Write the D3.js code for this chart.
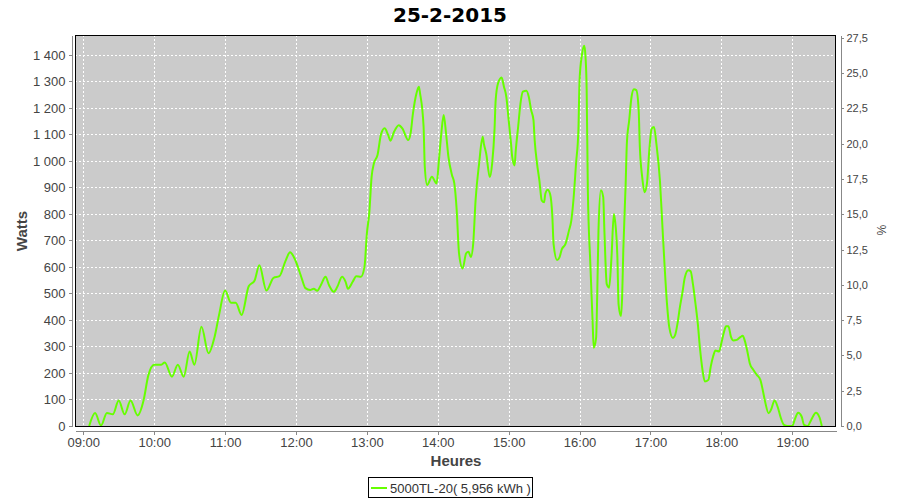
<!DOCTYPE html>
<html><head><meta charset="utf-8">
<script src="https://cdn.jsdelivr.net/npm/d3@7/dist/d3.min.js"></script>
<style>body{margin:0;background:#fff}</style>
</head><body>
<svg id="c" width="900" height="500"></svg>
<script>
const title = "25-2-2015";
const seriesName = "5000TL-20( 5,956 kWh )";
const times = ["09:05","09:10","09:15","09:20","09:25","09:30","09:35","09:40","09:46","09:51","09:55",
"10:00","10:06","10:09","10:15","10:20","10:25","10:30","10:34","10:40","10:46","10:51","10:55",
"11:00","11:05","11:09","11:14","11:20","11:25","11:29","11:35","11:41","11:46","11:51","11:55","11:59",
"12:03","12:05","12:08","12:12","12:15","12:18","12:21","12:25","12:28","12:32","12:35","12:39","12:42","12:44","12:48","12:51","12:55","12:58",
"13:00","13:02","13:04","13:06","13:09","13:12","13:15","13:18","13:20","13:23","13:27","13:30","13:35","13:37","13:39","13:42","13:44","13:45","13:48","13:49","13:51","13:55","13:59",
"14:01","14:03","14:05","14:07","14:09","14:12","14:14","14:16","14:18","14:21","14:24","14:26","14:28","14:30","14:32","14:35","14:38","14:39","14:41","14:44","14:46","14:48","14:49","14:51","14:54","14:56","14:58",
"15:00","15:02","15:03","15:05","15:06","15:08","15:10","15:12","15:15","15:17","15:19","15:21","15:22","15:24","15:26","15:28","15:30","15:31","15:33","15:35","15:37","15:38","15:41","15:43","15:45","15:48","15:51","15:53","15:55","15:57","15:59",
"16:00","16:02","16:04","16:05","16:06","16:07","16:09","16:11","16:12","16:14","16:15","16:16","16:18","16:20","16:21","16:23","16:25","16:27","16:29","16:30","16:32","16:33","16:35","16:36","16:37","16:39","16:40","16:42","16:44","16:46","16:48","16:50","16:51","16:53","16:55","16:57","16:59",
"17:01","17:03","17:05","17:08","17:10","17:12","17:14","17:16","17:19","17:21","17:23","17:25","17:27","17:29","17:32","17:34","17:36","17:38","17:40","17:42","17:44","17:46","17:49","17:51","17:53","17:55","17:58",
"18:00","18:02","18:04","18:06","18:08","18:10","18:13","18:16","18:18","18:20","18:22","18:24","18:27","18:30","18:33","18:35","18:37","18:40","18:42","18:45","18:48","18:50","18:53","18:56",
"19:00","19:02","19:05","19:08","19:10","19:13","19:16","19:20","19:23","19:25"];
const watts = [0,49,2,49,44,96,44,96,40,96,190,
231,231,240,186,231,186,281,231,374,274,334,421,
511,465,465,419,527,549,606,511,559,565,621,655,630,
582,555,520,513,518,510,531,563,531,506,525,563,544,518,544,565,563,601,
726,802,940,991,1022,1101,1123,1098,1076,1110,1135,1123,1079,1104,1179,1255,1280,1255,1129,978,909,940,915,
1003,1104,1173,1104,1016,947,915,815,651,594,651,657,638,689,852,991,1091,1065,1027,939,990,1116,1230,1293,1315,1280,1242,
1154,1065,1015,983,1040,1128,1217,1261,1265,1242,1192,1154,1078,990,926,851,844,876,891,876,787,686,626,636,667,686,737,775,863,990,1116,
1305,1400,1434,1394,1268,889,623,396,295,333,510,737,889,864,737,535,522,636,800,775,636,459,415,484,661,914,1065,1154,1242,1270,1267,1192,1053,939,882,914,1040,
1122,1128,1065,926,762,600,460,370,332,345,390,451,502,559,588,584,533,464,388,288,212,168,174,224,262,285,281,
313,351,376,376,338,323,325,335,340,319,281,237,212,193,174,136,92,48,61,96,67,35,4,0,
0,23,50,35,4,0,23,50,33,0];
const hourTicks = ["09:00","10:00","11:00","12:00","13:00","14:00","15:00","16:00","17:00","18:00","19:00"];
const leftTicks = [0,100,200,300,400,500,600,700,800,900,1000,1100,1200,1300,1400];
const rightTicks = [0,2.5,5,7.5,10,12.5,15,17.5,20,22.5,25,27.5];

const parse = s => { const [h,m] = s.split(":").map(Number); return new Date(2015,1,25,h,m); };
const data = times.map((t,i)=>({t:parse(t), v:watts[i]}));

const L=75, R=836, T=35, B=426;
const svg = d3.select("#c");
const x = d3.scaleTime().domain([parse("08:53"), parse("19:37")]).range([L,R]);
const yL = d3.scaleLinear().domain([0,1475]).range([B,T]);
const yR = d3.scaleLinear().domain([0,27.7]).range([B,T]);
const loc = d3.formatLocale({decimal:",", thousands:" ", grouping:[3], currency:["","€"]});
const fmtL = loc.format(",d"), fmtR = loc.format(".1f");
const FONT = "Liberation Sans, Arial, sans-serif";

svg.append("rect").attr("width",900).attr("height",500).attr("fill","#fff");
svg.append("rect").attr("x",L).attr("y",T).attr("width",R-L).attr("height",B-T).attr("fill","#cbcbcb");

const grid = svg.append("g").attr("stroke","#fff").attr("stroke-width",1).attr("stroke-dasharray","2,2").attr("shape-rendering","crispEdges");
grid.selectAll("line.h").data(leftTicks.filter(d=>d>0)).join("line")
  .attr("x1",L).attr("x2",R).attr("y1",d=>Math.round(yL(d))+0.5).attr("y2",d=>Math.round(yL(d))+0.5);
grid.selectAll("line.v").data(hourTicks.map(parse)).join("line")
  .attr("y1",T).attr("y2",B).attr("x1",d=>Math.round(x(d))+0.5).attr("x2",d=>Math.round(x(d))+0.5);

svg.append("defs").append("clipPath").attr("id","clip").append("rect").attr("x",L).attr("y",T).attr("width",R-L).attr("height",B-T);
const line = d3.line().x(d=>x(d.t)).y(d=>yL(d.v)).curve(d3.curveMonotoneX);
svg.append("path").datum(data).attr("clip-path","url(#clip)").attr("d",line)
  .attr("fill","none").attr("stroke","#66ff00").attr("stroke-width",2).attr("stroke-linejoin","round");

svg.append("rect").attr("x",L+0.5).attr("y",T+0.5).attr("width",R-L-1).attr("height",B-T).attr("fill","none").attr("stroke","#000").attr("shape-rendering","crispEdges");

function styleAxis(g){
  g.select(".domain").attr("stroke","#888");
  g.selectAll(".tick line").attr("stroke","#888");
  g.selectAll("text").attr("fill","#444").style("font-family",FONT).style("font-size","13px");
  g.attr("shape-rendering","crispEdges");
}
const ax = svg.append("g").attr("transform",`translate(0,${B+4.5})`)
  .call(d3.axisBottom(x).tickValues(hourTicks.map(parse)).tickFormat(d3.timeFormat("%H:%M")).tickSize(4).tickSizeOuter(0).tickPadding(3));
styleAxis(ax);
const al = svg.append("g").attr("transform",`translate(${L-3.5},0)`)
  .call(d3.axisLeft(yL).tickValues(leftTicks).tickFormat(fmtL).tickSize(3).tickSizeOuter(0).tickPadding(3));
styleAxis(al);
const ar = svg.append("g").attr("transform",`translate(${R+4.5},0)`)
  .call(d3.axisRight(yR).tickValues(rightTicks).tickFormat(fmtR).tickSize(3).tickSizeOuter(0).tickPadding(3));
styleAxis(ar);
ar.selectAll("text").style("font-size","11px");

svg.append("text").attr("x",450).attr("y",22).attr("text-anchor","middle")
  .style("font-family","DejaVu Sans, sans-serif").style("font-weight","bold").style("font-size","20px").attr("fill","#000").text(title);
svg.append("text").attr("transform","translate(27,231) rotate(-90)").attr("text-anchor","middle")
  .style("font-family",FONT).style("font-weight","bold").style("font-size","15px").attr("fill","#444").text("Watts");
svg.append("text").attr("x",456).attr("y",466).attr("text-anchor","middle")
  .style("font-family",FONT).style("font-weight","bold").style("font-size","15px").attr("fill","#444").text("Heures");
svg.append("text").attr("transform","translate(877,230) rotate(90)").attr("text-anchor","middle")
  .style("font-family",FONT).style("font-size","12px").attr("fill","#444").text("%");

const lg = svg.append("g");
lg.append("rect").attr("x",368.5).attr("y",477.5).attr("width",164).attr("height",20).attr("fill","#fff").attr("stroke","#000").attr("shape-rendering","crispEdges");
lg.append("line").attr("x1",371).attr("x2",387).attr("y1",488).attr("y2",488).attr("stroke","#66ff00").attr("stroke-width",2);
lg.append("text").attr("x",390).attr("y",492.5).style("font-family",FONT).style("font-size","13px").attr("fill","#333").text(seriesName);
</script>
</body></html>
